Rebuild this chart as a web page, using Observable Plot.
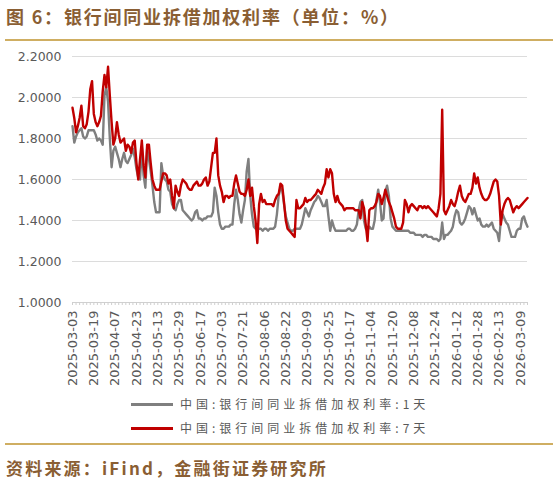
<!DOCTYPE html>
<html>
<head>
<meta charset="utf-8">
<script src="https://cdn.jsdelivr.net/npm/d3@7"></script>
<script src="https://cdn.jsdelivr.net/npm/@observablehq/plot@0.6"></script>
<style>
  html, body { margin: 0; padding: 0; background: #fff; }
  #wrap { position: relative; width: 558px; height: 486px; overflow: hidden; background: #fff; }
  #chart { position: absolute; left: 0; top: 0; }
  .title { position: absolute; left: 6px; top: 3px; font-family: "Noto Sans CJK SC", sans-serif; font-weight: bold; font-size: 18px; letter-spacing: 1.8px; color: #8a5e33; white-space: nowrap; }
  .rule { position: absolute; left: 5px; width: 548px; height: 1.5px; background: #cfae62; }
  .source { position: absolute; left: 6px; top: 455px; font-family: "Noto Sans CJK SC", sans-serif; font-weight: bold; font-size: 17px; letter-spacing: 2.2px; color: #8a5e33; white-space: nowrap; }
  .leg { position: absolute; left: 180px; font-family: "Noto Sans CJK SC", sans-serif; font-size: 12px; letter-spacing: 4px; color: #595959; white-space: nowrap; line-height: 16px; }
  .sw { position: absolute; left: 131px; width: 42px; height: 3px; }
</style>
</head>
<body>
<div id="wrap">
  <div class="title">图 6：银行间同业拆借加权利率（单位：%）</div>
  <div class="rule" style="top:39px"></div>
  <div id="chart"></div>
  <div class="sw" id="sw1" style="top:403px"></div>
  <div class="leg" id="lg1" style="top:396px"></div>
  <div class="sw" id="sw2" style="top:427px"></div>
  <div class="leg" id="lg2" style="top:420px"></div>
  <div class="rule" style="top:443px"></div>
  <div class="source">资料来源：iFind，金融街证券研究所</div>
</div>
<script>
const seriesNames = ["中国:银行间同业拆借加权利率:1天", "中国:银行间同业拆借加权利率:7天"];
const seriesColors = ["#7f7f7f", "#c00000"];

const tickLabels = ["2025-03-03","2025-03-19","2025-04-07","2025-04-23","2025-05-13","2025-05-29","2025-06-17","2025-07-03","2025-07-21","2025-08-06","2025-08-22","2025-09-09","2025-09-25","2025-10-17","2025-11-04","2025-11-20","2025-12-08","2025-12-24","2026-01-12","2026-01-28","2026-02-13","2026-03-09"];
const tickStep = 12;

const yTicks = [1.0, 1.2, 1.4, 1.6, 1.8, 2.0, 2.2];

// 1-day weighted rate (%), one value per trading day from 2025-03-03
const rate1D = [
1.86,1.78,1.81,1.83,1.84,1.85,1.81,1.80,1.81,1.84,
1.84,1.84,1.84,1.82,1.79,1.80,1.79,1.77,2.01,2.05,
1.98,1.80,1.66,1.74,1.76,1.73,1.70,1.66,1.70,1.73,
1.69,1.68,1.70,1.72,1.75,1.71,1.65,1.61,1.60,1.76,
1.62,1.56,1.75,1.70,1.64,1.57,1.49,1.44,1.44,1.44,
1.68,1.62,1.60,1.59,1.55,1.54,1.48,1.46,1.45,1.48,
1.50,1.50,1.45,1.44,1.43,1.42,1.41,1.40,1.41,1.44,
1.45,1.41,1.41,1.40,1.41,1.41,1.42,1.42,1.42,1.44,
1.56,1.52,1.44,1.38,1.36,1.36,1.37,1.37,1.37,1.38,
1.38,1.48,1.55,1.50,1.43,1.39,1.45,1.50,1.64,1.70,
1.52,1.43,1.37,1.36,1.36,1.36,1.36,1.35,1.36,1.36,
1.35,1.36,1.36,1.36,1.37,1.43,1.52,1.56,1.55,1.48,
1.42,1.39,1.36,1.35,1.35,1.36,1.36,1.36,1.36,1.38,
1.42,1.46,1.44,1.42,1.45,1.47,1.49,1.50,1.52,1.51,
1.49,1.47,1.47,1.50,1.42,1.35,1.40,1.37,1.35,1.35,
1.35,1.35,1.35,1.35,1.35,1.36,1.36,1.35,1.35,1.36,
1.38,1.45,1.49,1.50,1.40,1.36,1.35,1.37,1.36,1.36,
1.40,1.50,1.55,1.49,1.40,1.41,1.54,1.57,1.52,1.41,
1.37,1.36,1.35,1.35,1.35,1.35,1.35,1.35,1.35,1.35,
1.34,1.34,1.34,1.33,1.33,1.33,1.33,1.32,1.33,1.33,
1.32,1.32,1.32,1.31,1.31,1.31,1.30,1.31,1.39,1.31,
1.33,1.33,1.34,1.35,1.37,1.42,1.45,1.44,1.39,1.38,
1.39,1.41,1.44,1.47,1.46,1.43,1.46,1.43,1.40,1.41,
1.38,1.37,1.37,1.38,1.37,1.38,1.39,1.36,1.35,1.34,
1.30,1.40,1.43,1.41,1.39,1.38,1.35,1.32,1.32,1.32,
1.35,1.36,1.36,1.41,1.42,1.39,1.37
];

// 7-day weighted rate (%)
const rate7D = [
1.95,1.90,1.83,1.86,1.90,1.96,1.86,1.85,1.87,1.93,
2.04,2.08,1.92,1.88,1.86,1.88,1.91,2.03,2.11,2.05,
2.15,2.01,1.88,1.77,1.80,1.88,1.82,1.78,1.79,1.80,
1.74,1.77,1.76,1.73,1.78,1.79,1.68,1.60,1.70,1.79,
1.67,1.61,1.77,1.77,1.68,1.60,1.57,1.55,1.55,1.55,
1.59,1.63,1.63,1.62,1.58,1.60,1.52,1.46,1.57,1.54,
1.52,1.57,1.60,1.59,1.58,1.56,1.55,1.55,1.57,1.58,
1.59,1.57,1.57,1.58,1.60,1.61,1.57,1.59,1.66,1.73,
1.73,1.80,1.62,1.57,1.54,1.49,1.52,1.52,1.51,1.52,
1.52,1.58,1.62,1.58,1.54,1.53,1.53,1.52,1.55,1.60,
1.52,1.56,1.47,1.40,1.29,1.48,1.53,1.49,1.50,1.48,
1.48,1.48,1.48,1.47,1.50,1.52,1.53,1.58,1.57,1.49,
1.40,1.36,1.35,1.34,1.33,1.32,1.50,1.46,1.46,1.47,
1.48,1.51,1.49,1.50,1.50,1.51,1.52,1.53,1.55,1.54,
1.53,1.56,1.58,1.65,1.61,1.65,1.63,1.53,1.49,1.52,
1.49,1.48,1.47,1.45,1.46,1.46,1.46,1.46,1.46,1.45,
1.45,1.45,1.41,1.49,1.46,1.38,1.30,1.45,1.46,1.46,
1.47,1.49,1.53,1.52,1.48,1.51,1.55,1.52,1.49,1.47,
1.44,1.41,1.37,1.36,1.36,1.36,1.39,1.50,1.48,1.44,
1.47,1.48,1.47,1.46,1.45,1.47,1.47,1.46,1.47,1.46,
1.47,1.46,1.45,1.44,1.43,1.42,1.46,1.53,1.94,1.45,
1.43,1.45,1.47,1.50,1.48,1.47,1.50,1.54,1.57,1.52,
1.50,1.49,1.51,1.53,1.53,1.56,1.63,1.58,1.61,1.56,
1.53,1.51,1.50,1.50,1.51,1.53,1.56,1.59,1.60,1.59,
1.52,1.38,1.45,1.48,1.50,1.51,1.50,1.47,1.44,1.46,
1.47,1.46,1.47,1.48,1.49,1.50,1.51
];

const n = rate1D.length;
const d1 = rate1D.map((v, i) => ({i, v}));
const d7 = rate7D.map((v, i) => ({i, v}));
const majorIdx = tickLabels.map((_, k) => k * tickStep);
const minorIdx = d3.range(0, n, 2);

const chart = Plot.plot({
  width: 558,
  height: 400,
  marginTop: 56,
  marginBottom: 98,
  marginLeft: 72,
  marginRight: 31,
  x: {domain: [0, n - 1], axis: null},
  y: {domain: [1, 2.2], axis: null},
  style: {fontFamily: "DejaVu Sans, sans-serif", background: "transparent", overflow: "visible"},
  marks: [
    Plot.ruleY(yTicks.slice(1), {stroke: "#dcdcdc", strokeWidth: 1.2}),
    Plot.ruleY([1], {stroke: "#d0d0d0", strokeWidth: 1.2}),
    Plot.axisX({ticks: minorIdx, tickSize: 3, tickFormat: () => "", label: null, stroke: "#cfcfcf", strokeWidth: 1}),
    Plot.axisX({ticks: majorIdx, tickSize: 0, tickPadding: 8, tickRotate: -90, label: null,
      tickFormat: i => tickLabels[Math.round(i / tickStep)], fill: "#595959", fontSize: 13}),
    Plot.axisY({ticks: yTicks, tickSize: 0, tickPadding: 11, label: null,
      tickFormat: d3.format(".4f"), fill: "#595959", fontSize: 12.5}),
    Plot.line(d1, {x: "i", y: "v", stroke: seriesColors[0], strokeWidth: 2.4}),
    Plot.line(d7, {x: "i", y: "v", stroke: seriesColors[1], strokeWidth: 2.4})
  ]
});
document.getElementById("chart").appendChild(chart);

document.getElementById("sw1").style.background = seriesColors[0];
document.getElementById("sw2").style.background = seriesColors[1];
document.getElementById("lg1").textContent = seriesNames[0];
document.getElementById("lg2").textContent = seriesNames[1];
</script>
</body>
</html>
